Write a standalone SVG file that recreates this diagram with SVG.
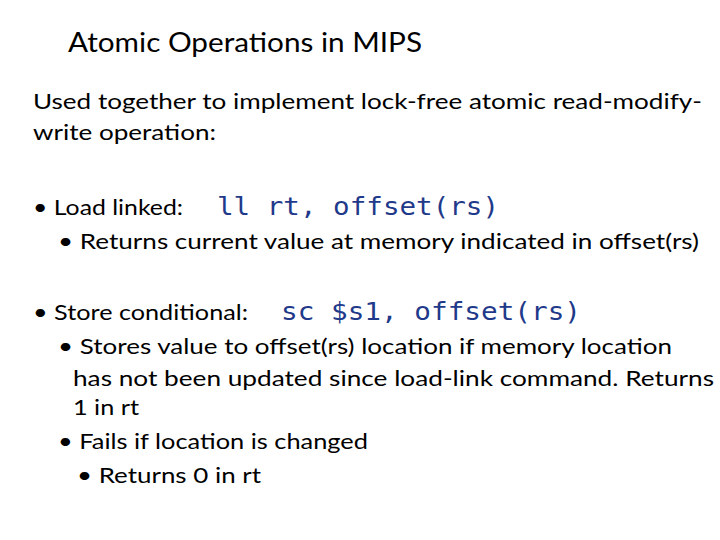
<svg xmlns="http://www.w3.org/2000/svg" width="720" height="540" viewBox="0 0 720 540">
<style>
text{font-family:Lato,"Open Sans",sans-serif;fill:#000}
.t{font-size:26px}
.b{font-size:22px}
.m{font-family:"DejaVu Sans Mono","Liberation Mono",monospace;font-size:25px;fill:#1f3a8a}
</style>
<rect width="720" height="540" fill="#fff"/>
<text class="t" x="68" y="52" textLength="354" lengthAdjust="spacingAndGlyphs">Atomic Operations in MIPS</text>
<text class="b" x="33" y="109" textLength="669" lengthAdjust="spacingAndGlyphs">Used together to implement lock-free atomic read-modify-</text>
<text class="b" x="33" y="140" textLength="183" lengthAdjust="spacingAndGlyphs">write operation:</text>
<text class="b" x="33" y="215" textLength="150" lengthAdjust="spacingAndGlyphs">• Load linked:</text>
<text class="m" x="217" y="215" textLength="282" lengthAdjust="spacingAndGlyphs">ll rt, offset(rs)</text>
<text class="b" x="58" y="249" textLength="641" lengthAdjust="spacingAndGlyphs">• Returns current value at memory indicated in offset(rs)</text>
<text class="b" x="33" y="320" textLength="215" lengthAdjust="spacingAndGlyphs">• Store conditional:</text>
<text class="m" x="281" y="320" textLength="300" lengthAdjust="spacingAndGlyphs">sc $s1, offset(rs)</text>
<text class="b" x="58" y="354" textLength="614" lengthAdjust="spacingAndGlyphs">• Stores value to offset(rs) location if memory location</text>
<text class="b" x="73" y="386" textLength="641" lengthAdjust="spacingAndGlyphs">has not been updated since load-link command. Returns</text>
<text class="b" x="73" y="415" textLength="66" lengthAdjust="spacingAndGlyphs">1 in rt</text>
<text class="b" x="58" y="449" textLength="310" lengthAdjust="spacingAndGlyphs">• Fails if location is changed</text>
<text class="b" x="77" y="483" textLength="184" lengthAdjust="spacingAndGlyphs">• Returns 0 in rt</text>
</svg>
